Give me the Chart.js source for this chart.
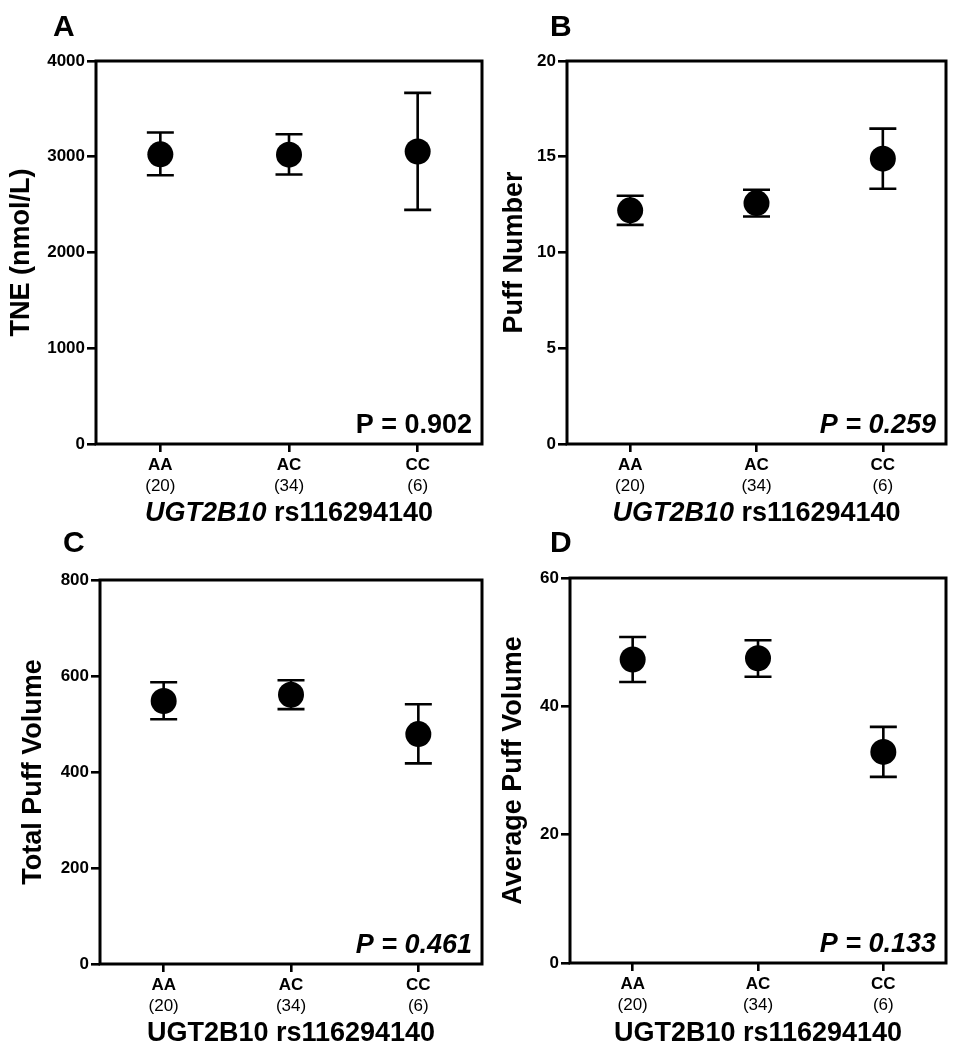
<!DOCTYPE html>
<html><head><meta charset="utf-8">
<script src="https://cdn.jsdelivr.net/npm/chart.js@4.4.1/dist/chart.umd.min.js"></script>
<style>
html,body{margin:0;padding:0;background:#fff;}
#wrap{position:relative;width:959px;height:1050px;overflow:hidden;background:#fff;}
canvas{position:absolute;}
</style></head><body>
<div id="wrap">
<canvas id="cA"></canvas>
<canvas id="cB"></canvas>
<canvas id="cC"></canvas>
<canvas id="cD"></canvas>
</div>
<script>
// ---- data ----
const categories = ['AA', 'AC', 'CC'];
const counts = ['(20)', '(34)', '(6)'];

const tneMean = [3025, 3022, 3055];
const tneLow = [2807, 2814, 2445];
const tneHigh = [3253, 3235, 3667];
const tneTicks = [0, 1000, 2000, 3000, 4000];

const puffNumberMean = [12.2, 12.58, 14.9];
const puffNumberLow = [11.44, 11.88, 13.33];
const puffNumberHigh = [12.96, 13.28, 16.47];
const puffNumberTicks = [0, 5, 10, 15, 20];

const totalVolumeMean = [548, 561, 479];
const totalVolumeLow = [510, 531, 418];
const totalVolumeHigh = [587, 591, 541];
const totalVolumeTicks = [0, 200, 400, 600, 800];

const avgVolumeMean = [47.3, 47.5, 32.9];
const avgVolumeLow = [43.8, 44.6, 29.0];
const avgVolumeHigh = [50.8, 50.3, 36.8];
const avgVolumeTicks = [0, 20, 40, 60];

const panelLetters = ['A', 'B', 'C', 'D'];
const pValues = ['P = 0.902', 'P = 0.259', 'P = 0.461', 'P = 0.133'];
const yTitles = ['TNE (nmol/L)', 'Puff Number', 'Total Puff Volume', 'Average Puff Volume'];
const xTitleGene = 'UGT2B10';
const xTitleSnp = 'rs116294140';

// ---- drawing ----
const FONT = "'Liberation Sans', Arial, Helvetica, sans-serif";
Chart.defaults.font.family = FONT;
Chart.defaults.color = '#000';

function makePanel(p) {
  const cv = document.getElementById(p.id);
  cv.width = p.canvas.w; cv.height = p.canvas.h;
  cv.style.left = p.canvas.x + 'px'; cv.style.top = p.canvas.y + 'px';
  cv.style.width = p.canvas.w + 'px'; cv.style.height = p.canvas.h + 'px';
  const a = p.area;
  const padTop = a.top - p.canvas.y;
  const padRight = p.canvas.x + p.canvas.w - a.right;
  const yWidth = a.left - p.canvas.x;
  const xTotal = p.canvas.y + p.canvas.h - a.bottom;
  const xH = 30;

  const deco = {
    id: 'deco',
    beforeDatasetsDraw(chart) {
      const ctx = chart.ctx, xs = chart.scales.x, ys = chart.scales.y;
      ctx.save();
      ctx.strokeStyle = '#000'; ctx.lineWidth = 2.6;
      p.mean.forEach((m, i) => {
        const x = xs.getPixelForValue(i);
        const yt = ys.getPixelForValue(p.high[i]);
        const yb = ys.getPixelForValue(p.low[i]);
        ctx.beginPath();
        ctx.moveTo(x, yt); ctx.lineTo(x, yb);
        ctx.moveTo(x - 13.5, yt); ctx.lineTo(x + 13.5, yt);
        ctx.moveTo(x - 13.5, yb); ctx.lineTo(x + 13.5, yb);
        ctx.stroke();
      });
      ctx.restore();
    },
    afterDraw(chart) {
      const ctx = chart.ctx, ca = chart.chartArea;
      ctx.save();
      ctx.strokeStyle = '#000'; ctx.lineWidth = 3;
      ctx.strokeRect(ca.left, ca.top, ca.right - ca.left, ca.bottom - ca.top);
      ctx.fillStyle = '#000';
      // panel letter
      ctx.font = 'bold 30px ' + FONT;
      ctx.textAlign = 'left'; ctx.textBaseline = 'alphabetic';
      ctx.fillText(p.letter, p.letterPos.x - p.canvas.x, p.letterPos.y - p.canvas.y);
      // P value
      ctx.font = (p.pItalic ? 'italic ' : '') + 'bold 27px ' + FONT;
      ctx.textAlign = 'right';
      ctx.fillText(p.pText, ca.right - 10, ca.bottom - 11);
      // mixed-style x title
      if (p.italicGene) {
        const f1 = 'italic bold 27px ' + FONT, f2 = 'bold 27px ' + FONT;
        ctx.font = f1; const w1 = ctx.measureText(xTitleGene).width;
        ctx.font = f2; const w2 = ctx.measureText(' ' + xTitleSnp).width;
        const cx = (ca.left + ca.right) / 2, cy = p.canvas.h - 16;
        let x0 = cx - (w1 + w2) / 2;
        ctx.textAlign = 'left'; ctx.textBaseline = 'middle';
        ctx.font = f1; ctx.fillText(xTitleGene, x0, cy);
        ctx.font = f2; ctx.fillText(' ' + xTitleSnp, x0 + w1, cy);
      }
      ctx.restore();
    }
  };

  return new Chart(cv, {
    type: 'line',
    data: {
      labels: categories,
      datasets: [{
        data: p.mean,
        showLine: false,
        pointRadius: 13,
        pointHoverRadius: 13,
        pointBackgroundColor: '#000',
        pointBorderColor: '#000',
        pointBorderWidth: 0
      }]
    },
    options: {
      responsive: false,
      animation: false,
      devicePixelRatio: 1,
      events: [],
      layout: { padding: { top: padTop, right: padRight, left: 0, bottom: 0 } },
      plugins: { legend: { display: false }, tooltip: { enabled: false } },
      scales: {
        x: {
          type: 'category', offset: true, position: 'bottom', weight: 0,
          grid: { drawOnChartArea: false, drawTicks: true, tickLength: 8, color: '#000', lineWidth: 2.6 },
          border: { display: false },
          ticks: { font: { size: 17, weight: 'bold', lineHeight: 1 }, padding: 5, color: '#000', maxRotation: 0 },
          afterFit: s => { s.height = xH; }
        },
        x2: {
          type: 'category', labels: counts, offset: true, position: 'bottom', weight: 1,
          grid: { display: false, drawTicks: false },
          border: { display: false },
          ticks: { font: { size: 17, lineHeight: 1 }, padding: 3.5, color: '#000', maxRotation: 0 },
          title: {
            display: !p.italicGene,
            text: xTitleGene + ' ' + xTitleSnp,
            font: { size: 27, weight: 'bold', lineHeight: 1 },
            padding: { top: 0, bottom: 2.5 }, color: '#000'
          },
          afterFit: s => { s.height = xTotal - xH; }
        },
        y: {
          min: p.ticks[0], max: p.ticks[p.ticks.length - 1],
          grid: { drawOnChartArea: false, drawTicks: true, tickLength: 9, color: '#000', lineWidth: 2.6 },
          border: { display: false },
          ticks: {
            stepSize: p.ticks[1] - p.ticks[0],
            callback: v => String(v),
            font: { size: 17, weight: 'bold', lineHeight: 1 }, padding: 2, color: '#000'
          },
          title: {
            display: true, text: p.yTitle,
            font: { size: 27, weight: 'bold', lineHeight: 1 },
            padding: { top: p.yTitlePad, bottom: 0 }, color: '#000'
          },
          afterFit: s => { s.width = yWidth; }
        }
      }
    },
    plugins: [deco]
  });
}

makePanel({
  id: 'cA', canvas: { x: 0, y: 0, w: 495, h: 530 },
  area: { left: 96, top: 61, right: 482, bottom: 444 },
  mean: tneMean, low: tneLow, high: tneHigh, ticks: tneTicks,
  letter: panelLetters[0], letterPos: { x: 53, y: 36 },
  pText: pValues[0], pItalic: false, italicGene: true,
  yTitle: yTitles[0], yTitlePad: 8
});
makePanel({
  id: 'cB', canvas: { x: 480, y: 0, w: 479, h: 530 },
  area: { left: 567, top: 61, right: 951, bottom: 444 },
  mean: puffNumberMean, low: puffNumberLow, high: puffNumberHigh, ticks: puffNumberTicks,
  letter: panelLetters[1], letterPos: { x: 550, y: 36 },
  pText: pValues[1], pItalic: true, italicGene: true,
  yTitle: yTitles[1], yTitlePad: 21
});
makePanel({
  id: 'cC', canvas: { x: 0, y: 520, w: 495, h: 530 },
  area: { left: 100, top: 580, right: 485, bottom: 964 },
  mean: totalVolumeMean, low: totalVolumeLow, high: totalVolumeHigh, ticks: totalVolumeTicks,
  letter: panelLetters[2], letterPos: { x: 63, y: 552 },
  pText: pValues[2], pItalic: true, italicGene: false,
  yTitle: yTitles[2], yTitlePad: 20
});
makePanel({
  id: 'cD', canvas: { x: 480, y: 520, w: 479, h: 530 },
  area: { left: 570, top: 578, right: 955, bottom: 963 },
  mean: avgVolumeMean, low: avgVolumeLow, high: avgVolumeHigh, ticks: avgVolumeTicks,
  letter: panelLetters[3], letterPos: { x: 550, y: 552 },
  pText: pValues[3], pItalic: true, italicGene: false,
  yTitle: yTitles[3], yTitlePad: 20
});
</script>
</body></html>
